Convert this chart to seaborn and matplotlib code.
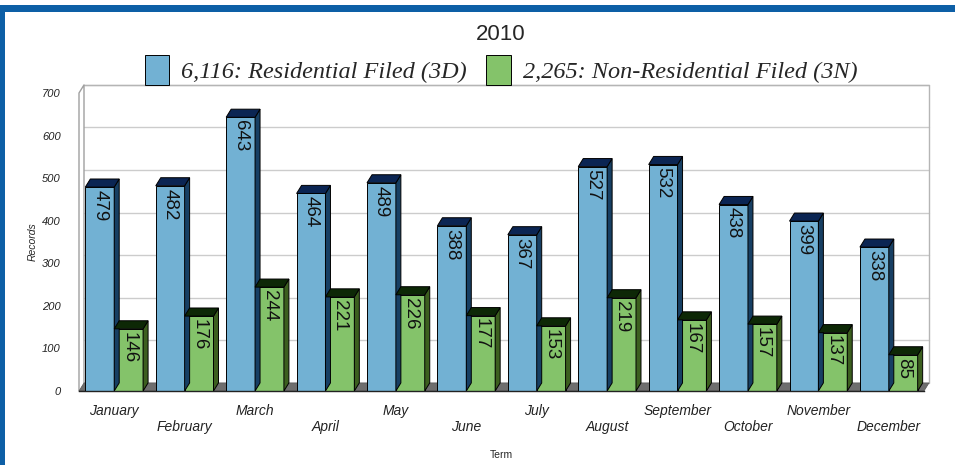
import matplotlib
matplotlib.use("Agg")
import matplotlib.pyplot as plt
from matplotlib.patches import Polygon, Rectangle
import pandas as pd
import seaborn as sns

# DATA
months = ["January", "February", "March", "April", "May", "June", "July",
          "August", "September", "October", "November", "December"]
residential = [479, 482, 643, 464, 489, 388, 367, 527, 532, 438, 399, 338]
non_residential = [146, 176, 244, 221, 226, 177, 153, 219, 167, 157, 137, 85]
series_names = ["6,116: Residential Filed (3D)", "2,265: Non-Residential Filed (3N)"]
yticks = [0, 100, 200, 300, 400, 500, 600, 700]

front_cols = ["#72b1d3", "#84c36a"]
top_cols = ["#0b2553", "#0d2806"]
side_cols = ["#173f63", "#3c5f1f"]

df = pd.DataFrame({
    "Term": months * 2,
    "Records": residential + non_residential,
    "series": [series_names[0]] * 12 + [series_names[1]] * 12,
})

sns.set_style("white")
plt.rcParams["font.family"] = ["Liberation Sans", "DejaVu Sans"]

fig = plt.figure(figsize=(9.55, 4.65), dpi=100)
ax = fig.add_axes([79 / 955, 74 / 465, 845 / 955, 298 / 465])

sns.barplot(data=df, x="Term", y="Records", hue="series", palette=front_cols,
            saturation=1, width=0.82, edgecolor="black", linewidth=0.7, ax=ax, zorder=3)
handles, labels = ax.get_legend_handles_labels()
ax.get_legend().remove()

ax.set_xlim(-0.5, 11.5)
ax.set_ylim(0, 700)

# depth of the fake 3d
dx, dy = 0.071, 19

# back wall: gridlines and frame
for yv in yticks[1:]:
    ax.plot([-0.5 + dx, 11.5 + dx], [yv + dy, yv + dy], color="#cccccc", lw=1,
            zorder=1, clip_on=False)
ax.plot([-0.5 + dx, 11.5 + dx, 11.5 + dx], [700 + dy, 700 + dy, dy],
        color="#b5b5b5", lw=1, zorder=1, clip_on=False)
ax.plot([-0.5, -0.5, -0.5 + dx, -0.5 + dx], [0, 700, 700 + dy, dy],
        color="#a0a0a0", lw=1, zorder=1, clip_on=False)

# floor
ax.add_patch(Polygon([(-0.5, 0), (11.5, 0), (11.5 + dx, dy), (-0.5 + dx, dy)],
                     closed=True, facecolor="#6e6e6e", edgecolor="#555555",
                     lw=0.5, zorder=2, clip_on=False))

# tops and sides of the bars, plus value labels
for i, cont in enumerate(ax.containers):
    vals = residential if i == 0 else non_residential
    for bar, v in zip(cont, vals):
        x0 = bar.get_x()
        w = bar.get_width()
        h = bar.get_height()
        top = Polygon([(x0, h), (x0 + w, h), (x0 + w + dx, h + dy), (x0 + dx, h + dy)],
                      closed=True, facecolor=top_cols[i], edgecolor="black",
                      lw=0.7, zorder=4, clip_on=False)
        side = Polygon([(x0 + w, 0), (x0 + w + dx, dy), (x0 + w + dx, h + dy), (x0 + w, h)],
                       closed=True, facecolor=side_cols[i], edgecolor="black",
                       lw=0.7, zorder=4 - 0.1 * i, clip_on=False)
        ax.add_patch(side)
        ax.add_patch(top)
        ax.annotate(str(v), (x0 + w / 2, h), xytext=(0, -2), textcoords="offset points",
                    rotation=-90, ha="center", va="top", fontsize=13.5, color="#111111",
                    zorder=6)

# axes cosmetics
for s in ["top", "right"]:
    ax.spines[s].set_visible(False)
ax.spines["left"].set_visible(False)
ax.spines["bottom"].set_color("#222222")
ax.spines["bottom"].set_linewidth(1)
ax.spines["bottom"].set_zorder(5)

ax.set_yticks(yticks)
ax.set_yticklabels([str(t) for t in yticks], fontsize=8, fontstyle="italic", color="#222222")
ax.tick_params(axis="y", length=0, pad=13)
ax.set_xticks(range(12))
ax.set_xticklabels([m if k % 2 == 0 else "\n" + m for k, m in enumerate(months)],
                   fontsize=10, fontstyle="italic", color="#222222")
ax.tick_params(axis="x", length=7, width=0.8, color="#222222", pad=2, direction="out")
ax.set_xlabel("Term", fontsize=7.5, labelpad=12)
ax.set_ylabel("Records", fontsize=7.5, fontstyle="italic", labelpad=3)
ax.grid(False)

# title and legend
cx = 501 / 955
fig.text(cx, 1 - 34 / 465, "2010", ha="center", va="center", fontsize=16)
fig.legend(handles, labels, loc="center", bbox_to_anchor=(cx, 1 - 70 / 465), ncol=2,
           frameon=False, handlelength=1.0, handleheight=1.5, handletextpad=0.5,
           columnspacing=0.8,
           prop={"family": ["Liberation Serif"], "style": "italic", "size": 17.5})

# blue page border
fig.patches.append(Rectangle((0, 1 - 12 / 465), 1, 7 / 465, transform=fig.transFigure,
                             facecolor="#0d5fa6", edgecolor="none", zorder=10))
fig.patches.append(Rectangle((0, 0), 5 / 955, 1 - 5 / 465, transform=fig.transFigure,
                             facecolor="#0d5fa6", edgecolor="none", zorder=10))

fig.savefig("out.png", dpi=100, facecolor="white")
